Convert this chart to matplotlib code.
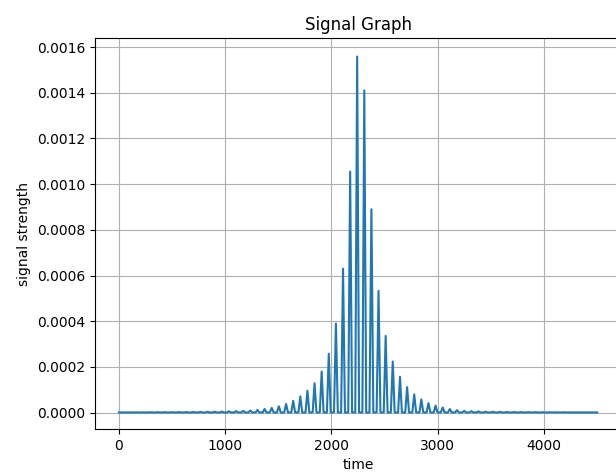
import matplotlib
matplotlib.use("Agg")
import matplotlib.pyplot as plt
import numpy as np

# Peak positions (time): first peak ~29, spacing ~67.1
peak_times = [29, 96, 163, 230, 297, 365, 432, 499, 566, 633,
              700, 767, 834, 901, 969, 1036, 1103, 1170, 1237, 1304,
              1371, 1438, 1505, 1573, 1640, 1707, 1774, 1841, 1908, 1975,
              2042, 2109, 2176, 2242, 2309, 2376, 2443, 2510, 2577, 2645,
              2712, 2779, 2846, 2913, 2980, 3047, 3114, 3181, 3249, 3316,
              3383, 3450, 3517, 3584, 3651, 3718, 3785, 3853, 3920, 3987,
              4054, 4121, 4188, 4255, 4322, 4389, 4456]

# Peak heights (signal strength)
peak_heights = [1.3e-6, 1.4e-6, 1.5e-6, 1.6e-6, 1.8e-6, 2.0e-6, 2.1e-6, 2.3e-6, 2.5e-6, 2.8e-6,
                3.0e-6, 3.5e-6, 4.0e-6, 4.5e-6, 5.0e-6, 6.0e-6, 7.0e-6, 8.0e-6, 9.5e-6, 12e-6,
                16e-6, 21e-6, 28e-6, 38e-6, 52e-6, 71e-6, 96e-6, 129e-6, 180e-6, 258e-6,
                390e-6, 630e-6, 1055e-6, 1558e-6, 1410e-6, 890e-6, 533e-6, 336e-6, 224e-6, 157e-6,
                112e-6, 80e-6, 58e-6, 42e-6, 31e-6, 23e-6, 16e-6, 11e-6, 8.0e-6, 6.5e-6,
                5.5e-6, 4.5e-6, 4.0e-6, 3.5e-6, 3.0e-6, 2.8e-6, 2.5e-6, 2.3e-6, 2.1e-6, 2.0e-6,
                1.8e-6, 1.6e-6, 1.5e-6, 1.4e-6, 1.3e-6, 1.2e-6, 1.1e-6]

# floor level between peaks
trough_level = 1.0e-6
t_start, t_end = 0, 4500
half_width = 18  # half width of each spike in time units (style)

xs = [t_start]
ys = [trough_level]
for t, h in zip(peak_times, peak_heights):
    xs += [t - half_width, t, t + half_width]
    ys += [trough_level, h, trough_level]
xs.append(t_end)
ys.append(trough_level)

fig = plt.figure(figsize=(6.16, 4.76), dpi=100)
ax = fig.add_axes([0.1542, 0.0987, 0.854, 0.8208])
ax.plot(xs, ys, color="#1f77b4", linewidth=1.5)
ax.set_xlim(-225, 4725)
ax.set_ylim(-0.0000715, 0.001638)
ax.set_xticks([0, 1000, 2000, 3000, 4000])
ax.set_yticks([0, 0.0002, 0.0004, 0.0006, 0.0008, 0.0010, 0.0012, 0.0014, 0.0016])
ax.set_yticklabels([f"{v:.4f}" for v in ax.get_yticks()])
ax.grid(True)
ax.set_title("Signal Graph")
ax.set_xlabel("time")
ax.set_ylabel("signal strength")
fig.savefig("out.png", dpi=100)
